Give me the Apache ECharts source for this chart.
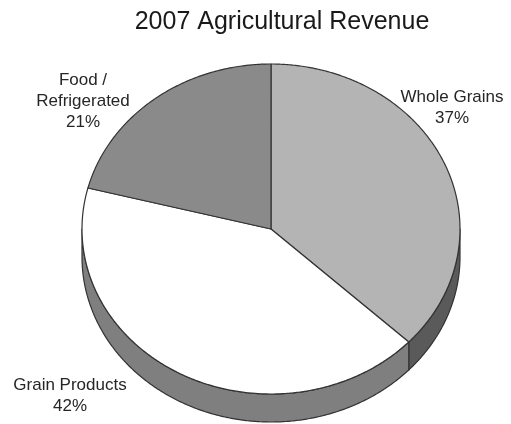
<!DOCTYPE html>
<html>
<head>
<meta charset="utf-8">
<script src="https://cdn.jsdelivr.net/npm/echarts@6/dist/echarts.min.js"></script>
<style>
  html, body { margin: 0; padding: 0; background: #fff; }
  #chart { width: 511px; height: 424px; }
</style>
</head>
<body>
<div id="chart"></div>
<script>
// ---- data ----
const chartTitle = '2007 Agricultural Revenue';
const categories = ['Whole Grains', 'Grain Products', 'Food /\nRefrigerated'];
const values = [37, 42, 21];

// ---- styles / layout (not data) ----
const topColors = ['#b4b4b4', '#ffffff', '#8a8a8a'];
const sideColors = ['#5a5a5a', '#7f7f7f', '#454545'];
const pie = { cx: 271, cy: 229, rx: 189, ry: 165, depth: 28 };
const labelPos = [[452, 108], [70, 396], [83, 101]];
const FONT = 'Liberation Sans, Arial, sans-serif';

const total = values.reduce((a, b) => a + b, 0);
const starts = [];
{ let acc = 0; values.forEach(v => { starts.push(90 - acc / total * 360); acc += v; }); }

function pt(tDeg, dy) {
  const t = tDeg * Math.PI / 180;
  return [pie.cx + pie.rx * Math.cos(t), pie.cy - pie.ry * Math.sin(t) + (dy || 0)];
}
function arc(a, b, dy) {
  const n = Math.max(2, Math.ceil(Math.abs(b - a) / 0.5));
  const out = [];
  for (let i = 0; i <= n; i++) out.push(pt(a + (b - a) * i / n, dy));
  return out;
}

function renderItem(params, api) {
  const i = params.dataIndex;
  const v = api.value(0);
  const s = starts[i];
  const e = s - v / total * 360;
  const children = [];
  const lineStyle = { stroke: '#333333', lineWidth: 1.2, lineJoin: 'round' };
  // front-facing side walls: angles where sin(t) < 0
  for (let k = -1; k <= 2; k++) {
    const lo = Math.max(e, -180 - 360 * k);
    const hi = Math.min(s, -360 * k);
    if (hi - lo > 0.01) {
      const topEdge = arc(hi, lo, 0);
      const botEdge = arc(lo, hi, pie.depth);
      children.push({
        type: 'polygon',
        shape: { points: topEdge.concat(botEdge) },
        style: Object.assign({ fill: sideColors[i] }, lineStyle)
      });
    }
  }
  // top face
  children.push({
    type: 'polygon',
    shape: { points: [[pie.cx, pie.cy]].concat(arc(s, e, 0)) },
    style: Object.assign({ fill: topColors[i] }, lineStyle)
  });
  // label
  const pct = Math.round(v / total * 100) + '%';
  children.push({
    type: 'text',
    x: labelPos[i][0],
    y: labelPos[i][1],
    style: {
      text: categories[i] + '\n' + pct,
      fill: '#262626',
      fontSize: 17,
      fontFamily: FONT,
      align: 'center',
      verticalAlign: 'middle',
      lineHeight: 21
    }
  });
  return { type: 'group', children: children };
}

const chart = echarts.init(document.getElementById('chart'), null, { renderer: 'canvas' });
chart.setOption({
  backgroundColor: '#ffffff',
  animation: false,
  title: {
    text: chartTitle,
    left: 277,
    textAlign: 'center',
    top: 5,
    textStyle: { fontFamily: FONT, fontSize: 25, fontWeight: 'normal', color: '#1a1a1a' }
  },
  series: [{
    type: 'custom',
    coordinateSystem: 'none',
    renderItem: renderItem,
    data: values.map(v => [v])
  }]
});
</script>
</body>
</html>
